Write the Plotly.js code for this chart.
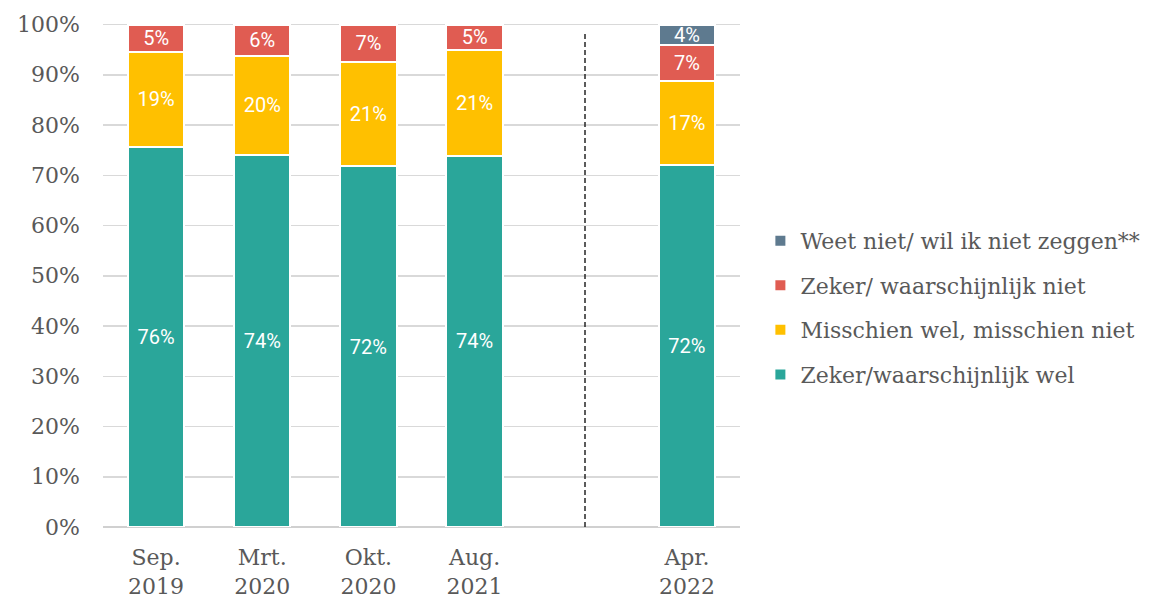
<!DOCTYPE html>
<html>
<head>
<meta charset="utf-8">
<script src="https://cdn.plot.ly/plotly-3.0.1.min.js"></script>
<style>html,body{margin:0;padding:0;background:#fff;}#chart{width:1169px;height:601px;}</style>
</head>
<body>
<div id="chart"></div>
<script>
var categories = ["Sep.<br>2019", "Mrt.<br>2020", "Okt.<br>2020", "Aug.<br>2021", "Apr.<br>2022"];
var positions = [0, 1, 2, 3, 5];
var zekerWel = [75.6, 74.1, 71.8, 73.9, 72.1];
var misschien = [19.0, 19.6, 20.8, 21.0, 16.7];
var zekerNiet = [5.4, 6.3, 7.4, 5.1, 7.1];
var weetNiet = [null, null, null, null, 4.1];
var seriesNames = ["Zeker/waarschijnlijk wel", "Misschien wel, misschien niet", "Zeker/ waarschijnlijk niet", "Weet niet/ wil ik niet zeggen**"];
var colors = ["#2aa69a", "#ffc000", "#e05c52", "#5e7a8f"];
var yTicks = [0, 10, 20, 30, 40, 50, 60, 70, 80, 90, 100];
var dividerPos = 4.04;

var seriesValues = [zekerWel, misschien, zekerNiet, weetNiet];
var traces = seriesValues.map(function (vals, i) {
  return {
    type: 'bar',
    x: positions,
    y: vals,
    name: seriesNames[i],
    legendgroup: 'g' + i,
    legendrank: 10 - i,
    marker: { color: colors[i], line: { color: '#ffffff', width: 2 } },
    texttemplate: '%{y:.0f}%',
    textposition: 'inside',
    insidetextanchor: 'middle',
    textangle: 0,
    constraintext: 'none',
    textfont: { family: 'Roboto, sans-serif', size: 20, color: '#ffffff' },
    hoverinfo: 'skip'
  };
});

var layout = {
  width: 1169,
  height: 601,
  barmode: 'stack',
  bargap: 0.47,
  paper_bgcolor: '#ffffff',
  plot_bgcolor: '#ffffff',
  margin: { l: 103, r: 429, t: 22, b: 74 },
  font: { family: 'DejaVu Serif, serif', color: '#595959', size: 22 },
  xaxis: {
    range: [-0.5, 5.5],
    tickmode: 'array',
    tickvals: positions,
    ticktext: categories,
    showgrid: false,
    zeroline: false,
    showline: false,
    ticks: '',
    ticklabelstandoff: 15,
    tickfont: { family: 'DejaVu Serif, serif', size: 22, color: '#595959' },
    fixedrange: true
  },
  yaxis: {
    range: [0, 100.5],
    tickmode: 'array',
    tickvals: yTicks,
    ticktext: yTicks.map(function (v) { return v + '%'; }),
    showgrid: true,
    gridcolor: '#d9d9d9',
    gridwidth: 1.5,
    zeroline: true,
    zerolinecolor: '#d0d0d0',
    zerolinewidth: 2,
    ticks: '',
    ticklabelstandoff: 22,
    tickfont: { family: 'DejaVu Serif, serif', size: 22, color: '#595959' },
    fixedrange: true
  },
  legend: {
    x: 1.032,
    xanchor: 'left',
    y: 0.434,
    yanchor: 'middle',
    traceorder: 'grouped',
    tracegroupgap: 13,
    itemwidth: 30,
    font: { family: 'DejaVu Serif, serif', size: 22, color: '#595959' },
    itemclick: false,
    itemdoubleclick: false
  },
  shapes: [{
    type: 'line',
    xref: 'x',
    yref: 'y',
    x0: dividerPos,
    x1: dividerPos,
    y0: 0,
    y1: 98.5,
    line: { color: '#262626', width: 1.5, dash: '5px,3px' }
  }]
};

Plotly.newPlot('chart', traces, layout, { displayModeBar: false, staticPlot: true });
</script>
</body>
</html>
